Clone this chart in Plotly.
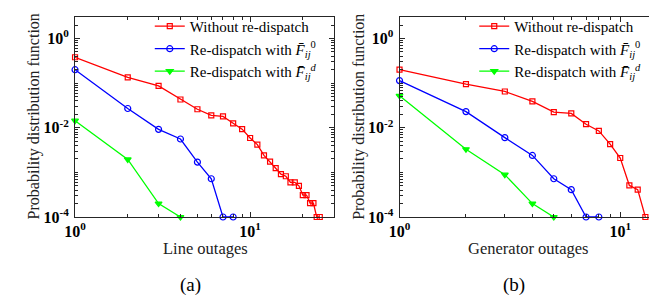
import math
import plotly.graph_objects as go

# ---- data: panel (a) Line outages ----
a_red_x = [1, 2, 3, 4, 5, 6, 7, 8, 9, 10, 11, 12, 13, 14, 15, 16, 17, 18, 19, 20, 21, 22, 23, 24, 25]
a_red_y = [0.38, 0.135, 0.087, 0.043, 0.026, 0.019, 0.018, 0.0126, 0.0093, 0.0059, 0.0042,
           0.0024, 0.00174, 0.00124, 0.00091, 0.00082, 0.0006, 0.0006, 0.0005, 0.00031,
           0.00031, 0.000205, 0.000205, 0.0001, 0.0001]
a_blue_x = [1, 2, 3, 4, 5, 6, 7, 8]
a_blue_y = [0.2, 0.027, 0.0092, 0.0056, 0.0017, 0.00072, 0.0001, 0.0001]
a_green_x = [1, 2, 3, 4]
a_green_y = [0.0144, 0.00195, 0.0002, 0.0001]

# ---- data: panel (b) Generator outages ----
b_red_x = [1, 2, 3, 4, 5, 6, 7, 8, 9, 10, 11, 12, 13]
b_red_y = [0.2, 0.095, 0.065, 0.039, 0.0225, 0.021, 0.012, 0.0085, 0.0043, 0.0021, 0.00051, 0.00041, 0.0001]
b_blue_x = [1, 2, 3, 4, 5, 6, 7, 8]
b_blue_y = [0.114, 0.023, 0.006, 0.0024, 0.00072, 0.00041, 0.0001, 0.0001]
b_green_x = [1, 2, 3, 4, 5]
b_green_y = [0.052, 0.0033, 0.00089, 0.0002, 0.0001]

series_names = ["Without re-dispatch",
                "Re-dispatch with <i>F̄</i><sub><i>ij</i></sub><sup>0</sup>",
                "Re-dispatch with <i>F̄</i><sub><i>ij</i></sub><sup><i>d</i></sup>"]
x_titles = ["Line outages", "Generator outages"]
panel_labels = ["(a)", "(b)"]
y_title = "Probability distribution function"

SERIF = "Liberation Serif, Times New Roman, DejaVu Serif, serif"
colors = ["#ff0000", "#0000ff", "#00ff00"]
symbols = ["square-open", "circle-open", "triangle-down"]
sizes = [5, 6, 6]

W, H = 657, 299
fig = go.Figure()

panels = [
    (a_red_x, a_red_y, a_blue_x, a_blue_y, a_green_x, a_green_y),
    (b_red_x, b_red_y, b_blue_x, b_blue_y, b_green_x, b_green_y),
]
for p, data in enumerate(panels):
    xs = [data[0], data[2], data[4]]
    ys = [data[1], data[3], data[5]]
    for k in range(3):
        fig.add_trace(go.Scatter(
            x=xs[k], y=ys[k], mode="lines+markers", name=series_names[k],
            line=dict(color=colors[k], width=1.3),
            marker=dict(symbol=symbols[k], size=sizes[k], color=colors[k],
                        line=dict(color=colors[k], width=1.2)),
            xaxis="x" if p == 0 else "x2", yaxis="y" if p == 0 else "y2",
            legend="legend" if p == 0 else "legend2",
            cliponaxis=False,
        ))

minor_vals = [m * 10 ** e for e in range(-5, 2) for m in range(1, 10)]
axcol = "#262626"
ybot, ytop = 1 - 215.5 / H, 1 - 9.5 / H

def xaxis(dom, xmax, anchor):
    return dict(type="log", domain=dom, range=[0, math.log10(xmax)],
                tickvals=[1, 10], ticktext=["<b>10<sup>0</sup></b>", "<b>10<sup>1</sup></b>"],
                ticks="inside", ticklen=5, tickcolor=axcol, mirror="ticks",
                showline=True, linecolor=axcol, linewidth=1, showgrid=False, zeroline=False,
                tickfont=dict(family=SERIF, size=16, color="#000"),
                minor=dict(tickvals=minor_vals, ticks="inside", ticklen=3, tickcolor=axcol),
                anchor=anchor)

def yaxis(anchor):
    return dict(type="log", domain=[ybot, ytop], range=[-4, math.log10(3)],
                tickvals=[1e-4, 1e-2, 1],
                ticktext=["<b>10<sup>-4</sup></b>", "<b>10<sup>-2</sup></b>", "<b>10<sup>0</sup></b>"],
                ticks="inside", ticklen=5, tickcolor=axcol, mirror="ticks",
                showline=True, linecolor=axcol, linewidth=1, showgrid=False, zeroline=False,
                tickfont=dict(family=SERIF, size=16, color="#000"),
                minor=dict(tickvals=minor_vals, ticks="inside", ticklen=3, tickcolor=axcol),
                anchor=anchor, ticklabelstandoff=2)

leg = dict(font=dict(family=SERIF, size=15, color="#000"), bgcolor="rgba(255,255,255,0)",
           borderwidth=0, yanchor="top", xanchor="left", tracegroupgap=0,
           itemwidth=30, y=1 - 2 / H)

fig.update_layout(
    width=W, height=H, margin=dict(l=0, r=0, t=0, b=0),
    paper_bgcolor="white", plot_bgcolor="white",
    xaxis=xaxis([57 / W, 320 / W], 30, "y"),
    yaxis=yaxis("x"),
    xaxis2=xaxis([387 / W, 651 / W], 15, "y2"),
    yaxis2=yaxis("x2"),
    legend=dict(leg, x=133 / W),
    legend2=dict(leg, x=463 / W),
    showlegend=True,
    font=dict(family=SERIF),
)

centers = [(190, 174, 15), (518, 503, 345)]
for p in range(2):
    cx, lx, yx = centers[p]
    fig.add_annotation(x=cx / W, y=1 - 248 / H, xref="paper", yref="paper", text=x_titles[p],
                       showarrow=False, font=dict(family=SERIF, size=16.5, color="#222"),
                       xanchor="center", yanchor="middle")
    fig.add_annotation(x=lx / W, y=1 - 286 / H, xref="paper", yref="paper", text=panel_labels[p],
                       showarrow=False, font=dict(family=SERIF, size=19, color="#000"),
                       xanchor="center", yanchor="middle")
    fig.add_annotation(x=yx / W, y=1 - 112 / H, xref="paper", yref="paper", text=y_title,
                       showarrow=False, textangle=-90, font=dict(family=SERIF, size=16, color="#222"),
                       xanchor="center", yanchor="middle")

fig.write_html("out.html")
